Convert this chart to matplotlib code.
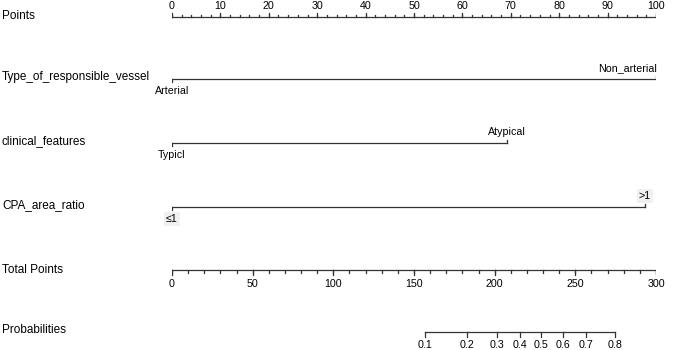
import matplotlib.pyplot as plt
from matplotlib.transforms import blended_transform_factory

plt.rcParams['font.family'] = ['Liberation Sans', 'DejaVu Sans']

# points scale
point_ticks = list(range(0, 101, 10))
point_minor = list(range(0, 101, 2))

# variables: (name, level labels, points of each level)
var_names = ["Type_of_responsible_vessel", "clinical_features", "CPA_area_ratio"]
var_levels = [["Arterial", "Non_arterial"], ["Typicl", "Atypical"], ["\u22641", ">1"]]
var_points = [[0, 100], [0, 69.2], [0, 97.7]]

# total points scale
total_ticks = list(range(0, 301, 50))
total_minor = list(range(0, 301, 10))

# probabilities and the total points where they sit
prob_labels = ["0.1", "0.2", "0.3", "0.4", "0.5", "0.6", "0.7", "0.8"]
prob_total = [156.8, 182.9, 201.5, 215.8, 228.8, 242.4, 256.7, 274.6]

W, H = 685, 350
fig = plt.figure(figsize=(6.85, 3.5), dpi=100)
ax = fig.add_axes([172 / W, 0, 484 / W, 1])
ax.set_xlim(0, 100)
ax.set_ylim(H, 0)
ax.axis('off')

lc = '#333333'
lw = 0.9
fs_lab = 8.5
fs_tick = 7.7
lab_tr = blended_transform_factory(fig.transFigure, ax.transData)

def left_label(y, s):
    ax.text(2 / W, y, s, transform=lab_tr, fontsize=fs_lab, va='center', ha='left')

# Points
y = 17
left_label(16, "Points")
ax.plot([0, 100], [y, y], color=lc, lw=lw)
for v in point_minor:
    ax.plot([v, v], [y, y - 2.5], color=lc, lw=lw)
for v in point_ticks:
    ax.plot([v, v], [y, y - 4.5], color=lc, lw=lw)
    ax.text(v, 6, str(v), fontsize=fs_tick, ha='center', va='center')

# variables
var_y = [79, 143, 207]
for name, levels, pts, yy in zip(var_names, var_levels, var_points, var_y):
    left_label(yy - 2, name)
    ax.plot(pts, [yy, yy], color=lc, lw=lw)
    ax.plot([pts[0], pts[0]], [yy, yy + 3], color=lc, lw=lw)
    ax.plot([pts[1], pts[1]], [yy, yy - 3], color=lc, lw=lw)
    box = None
    if levels[0].startswith("\u2264"):
        box = dict(facecolor='#f0f0f0', edgecolor='none', pad=1.2)
    ax.text(pts[0], yy + 12, levels[0], fontsize=fs_tick, ha='center', va='center', bbox=box)
    ha = 'right' if pts[1] >= 99 else 'center'
    ax.text(pts[1] + (0.2 if ha == 'right' else 0), yy - 11, levels[1], fontsize=fs_tick,
            ha=ha, va='center', bbox=box)

# Total Points
y = 270
left_label(270, "Total Points")
ax.plot([0, 100], [y, y], color=lc, lw=lw)
for v in total_minor:
    ax.plot([v / 3, v / 3], [y, y + 2.5], color=lc, lw=lw)
for v in total_ticks:
    ax.plot([v / 3, v / 3], [y, y + 4.5], color=lc, lw=lw)
    ax.text(v / 3, 284, str(v), fontsize=fs_tick, ha='center', va='center')

# Probabilities
y = 332
left_label(330, "Probabilities")
px = [t / 3 for t in prob_total]
ax.plot([px[0], px[-1]], [y, y], color=lc, lw=lw)
for x, s in zip(px, prob_labels):
    ax.plot([x, x], [y, y + 4.5], color=lc, lw=lw)
    ax.text(x, 345, s, fontsize=fs_tick, ha='center', va='center')

fig.savefig("out.png", dpi=100)
